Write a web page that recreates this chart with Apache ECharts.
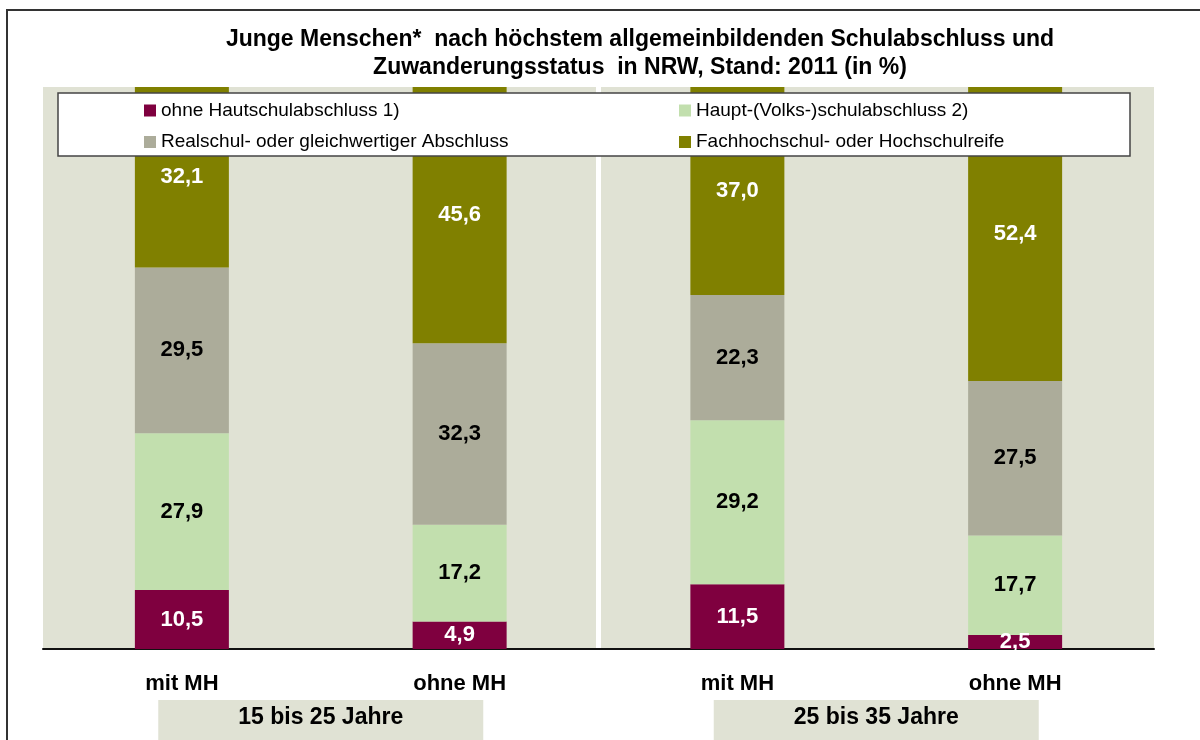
<!DOCTYPE html>
<html>
<head>
<meta charset="utf-8">
<script src="https://cdn.jsdelivr.net/npm/echarts@6/dist/echarts.min.js"></script>
<style>
  html, body { margin: 0; padding: 0; background: #fff; }
  #chart { width: 1200px; height: 740px; }
</style>
</head>
<body>
<div id="chart"></div>
<script>
// Kategorien und Altersgruppen
const categories = ['mit MH', 'ohne MH', 'mit MH', 'ohne MH'];
const ageGroups = ['15 bis 25 Jahre', '25 bis 35 Jahre'];

// Reihenbezeichnungen
const seriesNames = [
  'ohne Hautschulabschluss 1)',
  'Haupt-(Volks-)schulabschluss 2)',
  'Realschul- oder gleichwertiger Abschluss',
  'Fachhochschul- oder Hochschulreife'
];

// Werte in %
const ohneAbschluss = [10.5, 4.9, 11.5, 2.5];
const hauptschule = [27.9, 17.2, 29.2, 17.7];
const realschule = [29.5, 32.3, 22.3, 27.5];
const hochschulreife = [32.1, 45.6, 37.0, 52.4];

const colors = ['#7F003F', '#C2DFAE', '#ACAC9A', '#808000'];
const labelColors = ['#fff', '#000', '#000', '#fff'];
const font = '"Liberation Sans", Arial, sans-serif';

const chart = echarts.init(document.getElementById('chart'));

const makeSeries = (name, data, idx) => ({
  name: name,
  type: 'bar',
  stack: 'total',
  data: data,
  barWidth: 94,
  itemStyle: { color: colors[idx] },
  label: {
    show: true,
    position: 'inside',
    color: labelColors[idx],
    fontFamily: font,
    fontSize: 22,
    fontWeight: 'bold',
    formatter: p => p.value.toFixed(1).replace('.', ',')
  },
  emphasis: { disabled: true }
});

const legendBase = {
  orient: 'vertical',
  top: 101,
  padding: 0,
  icon: 'rect',
  itemWidth: 12,
  itemHeight: 12,
  itemGap: 12.5,
  selectedMode: false,
  z: 20,
  textStyle: { fontFamily: font, fontSize: 19, lineHeight: 19, color: '#000' }
};

const option = {
  animation: false,
  title: {
    text: 'Junge Menschen*  nach höchstem allgemeinbildenden Schulabschluss und\nZuwanderungsstatus  in NRW, Stand: 2011 (in %)',
    left: 640,
    top: 26,
    padding: 0,
    textAlign: 'center',
    textVerticalAlign: 'top',
    textStyle: { fontFamily: font, fontSize: 23, fontWeight: 'bold', lineHeight: 28, color: '#000' }
  },
  legend: [
    Object.assign({}, legendBase, { left: 144, data: [seriesNames[0], seriesNames[2]] }),
    Object.assign({}, legendBase, { left: 679, data: [seriesNames[1], seriesNames[3]] })
  ],
  graphic: [
    {
      type: 'rect',
      z: 0,
      shape: { x: 7, y: 10, width: 1300, height: 900 },
      style: { fill: 'none', stroke: '#333', lineWidth: 2 }
    },
    {
      type: 'rect',
      z: 10,
      shape: { x: 58, y: 93, width: 1072, height: 63 },
      style: { fill: '#fff', stroke: '#444', lineWidth: 1.5 }
    }
  ],
  grid: {
    left: 43,
    right: 46,
    top: 87,
    bottom: 91,
    show: true,
    backgroundColor: '#E0E2D4',
    borderWidth: 0,
    containLabel: false,
    outerBoundsMode: 'none'
  },
  xAxis: [
    {
      type: 'category',
      data: categories,
      axisLine: { show: true, lineStyle: { color: '#111', width: 2 } },
      axisTick: { show: false },
      axisLabel: {
        margin: 24,
        color: '#000',
        fontFamily: font,
        fontSize: 22,
        fontWeight: 'bold'
      },
      splitLine: { show: false }
    },
    {
      type: 'category',
      data: ageGroups,
      position: 'bottom',
      axisLine: { show: false },
      axisTick: { show: false },
      axisLabel: {
        margin: 51,
        color: '#000',
        fontFamily: font,
        fontSize: 23,
        fontWeight: 'bold',
        backgroundColor: '#E0E2D4',
        width: 325,
        height: 32,
        lineHeight: 32,
        padding: [2, 0, 6, 0],
        align: 'center'
      },
      splitLine: {
        show: true,
        showMinLine: false,
        showMaxLine: false,
        lineStyle: { color: '#fff', width: 5 }
      }
    }
  ],
  yAxis: {
    type: 'value',
    min: 0,
    max: 100,
    show: false
  },
  series: [
    makeSeries(seriesNames[0], ohneAbschluss, 0),
    makeSeries(seriesNames[1], hauptschule, 1),
    makeSeries(seriesNames[2], realschule, 2),
    makeSeries(seriesNames[3], hochschulreife, 3)
  ]
};

chart.setOption(option);
window.addEventListener('resize', () => chart.resize());
</script>
</body>
</html>
